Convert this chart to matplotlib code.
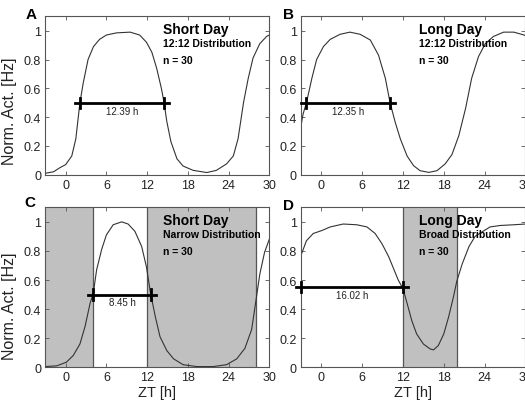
import matplotlib
matplotlib.use('Agg')
import matplotlib.pyplot as plt

plt.rcParams['font.family'] = ['Liberation Sans', 'DejaVu Sans']

# Curves (ZT hour, normalised activity)
a_x = [-3, -1.8, -0.8, 0, 0.9, 1.5, 2.1, 2.6, 3.3, 4.1, 5.0, 6.0, 7.5, 9.5, 10.9, 11.9, 12.7, 13.4, 14.1, 14.5,
       14.9, 15.5, 16.4, 17.3, 18.8, 20.8, 22.2, 23.7, 24.7, 25.4, 26.2, 26.9, 27.6, 28.6, 29.6, 30]
a_y = [0.01, 0.02, 0.05, 0.07, 0.13, 0.25, 0.5, 0.64, 0.8, 0.89, 0.94, 0.97, 0.985, 0.99, 0.97, 0.92, 0.85, 0.74, 0.6, 0.5,
       0.37, 0.23, 0.11, 0.06, 0.03, 0.015, 0.03, 0.075, 0.13, 0.25, 0.5, 0.67, 0.81, 0.91, 0.96, 0.97]

b_x = [-3, -2.7, -2.2, -1.4, -0.7, 0.3, 1.3, 2.75, 4.2, 5.7, 7.2, 8.4, 9.4, 10.1, 10.85, 11.6, 12.6, 13.55, 14.5,
       15.8, 17.0, 18.2, 19.2, 20.2, 21.2, 22.1, 23.1, 24.1, 25.3, 26.8, 28.3, 29.8, 30]
b_y = [0.34, 0.42, 0.5, 0.67, 0.8, 0.89, 0.94, 0.975, 0.99, 0.975, 0.935, 0.83, 0.67, 0.5, 0.365, 0.25, 0.13, 0.063, 0.028,
       0.016, 0.028, 0.075, 0.14, 0.27, 0.46, 0.67, 0.82, 0.91, 0.96, 0.99, 0.99, 0.97, 0.965]

c_x = [-3, -1.3, 0.1, 1.1, 2.1, 2.85, 3.6, 4.07, 4.56, 5.3, 6.0, 7.0, 8.25, 9.2, 10.2, 11.2, 11.9, 12.5, 13.2, 13.9,
       14.9, 15.9, 17.3, 19.3, 21.75, 23.7, 25.2, 26.4, 27.4, 28.1, 28.6, 29.3, 30]
c_y = [0.005, 0.01, 0.035, 0.08, 0.16, 0.28, 0.44, 0.51, 0.67, 0.81, 0.91, 0.98, 1.0, 0.985, 0.935, 0.83, 0.69, 0.51, 0.35, 0.21,
       0.115, 0.058, 0.018, 0.005, 0.005, 0.018, 0.058, 0.13, 0.26, 0.48, 0.64, 0.79, 0.88]

d_x = [-3, -2.2, -1.2, 0.05, 1.3, 3.2, 5.2, 6.7, 7.9, 8.9, 9.9, 10.6, 11.3, 12.0, 12.6, 13.3, 14.0, 15.0, 16.0, 16.5,
       17.2, 18.0, 18.7, 19.4, 19.9, 20.7, 21.7, 22.6, 23.6, 24.8, 26.3, 28.3, 30]
d_y = [0.77, 0.87, 0.92, 0.94, 0.965, 0.985, 0.98, 0.965, 0.92, 0.85, 0.76, 0.68, 0.6, 0.54, 0.44, 0.32, 0.23, 0.16, 0.126, 0.12,
       0.15, 0.23, 0.345, 0.48, 0.59, 0.71, 0.83, 0.9, 0.93, 0.965, 0.975, 0.98, 0.985]

# half-max bars: (left crossing, right crossing, level, label)
bars = {
    'A': (2.1, 14.49, 0.5, '12.39 h'),
    'B': (-2.25, 10.1, 0.5, '12.35 h'),
    'C': (4.07, 12.52, 0.5, '8.45 h'),
    'D': (-3.0, 12.0, 0.55, '16.02 h'),
}
titles = {
    'A': ('Short Day', '12:12 Distribution'),
    'B': ('Long Day', '12:12 Distribution'),
    'C': ('Short Day', 'Narrow Distribution'),
    'D': ('Long Day', 'Broad Distribution'),
}
# dark phases (shaded)
dark = {'C': [(-3, 4), (12, 28)], 'D': [(12, 20)]}
n_animals = 30

W, H = 525, 402
fig = plt.figure(figsize=(W / 100, H / 100), dpi=100)

def box(x0, y0, x1, y1):
    return [x0 / W, 1 - y1 / H, (x1 - x0) / W, (y1 - y0) / H]

axes = {
    'A': fig.add_axes(box(45.3, 17.3, 269.3, 175.7)),
    'B': fig.add_axes(box(301, 17.3, 525.4, 175.7)),
    'C': fig.add_axes(box(45.3, 208.3, 269.3, 368.3)),
    'D': fig.add_axes(box(301, 208.3, 525.4, 368.3)),
}
curves = {'A': (a_x, a_y), 'B': (b_x, b_y), 'C': (c_x, c_y), 'D': (d_x, d_y)}
letter_pos = {'A': (31, 15), 'B': (288, 15), 'C': (30, 203), 'D': (289, 206)}

for key, ax in axes.items():
    for x0, x1 in dark.get(key, []):
        ax.axvspan(x0, x1, color='#c0c0c0', lw=0, zorder=0)
        for xb in (x0, x1):
            if -3 < xb < 30:
                ax.axvline(xb, color='#555555', lw=0.9, zorder=1)
    xs, ys = curves[key]
    ax.plot(xs, ys, color='#333333', lw=0.8, zorder=2)

    l, r, lev, lab = bars[key]
    ax.plot([l - 0.75, r + 0.75], [lev, lev], color='black', lw=2, zorder=3, clip_on=False)
    for xt in (l, r):
        ax.plot([xt, xt], [lev - 0.035, lev + 0.035], color='black', lw=2, zorder=3, clip_on=False)
    ax.text((l + r) / 2, lev - 0.02, lab, fontsize=7, ha='center', va='top', color='#222222')

    t1, t2 = titles[key]
    ax.text(14.4, 1.01, t1, fontsize=10, fontweight='bold', va='center')
    ax.text(14.4, 0.915, t2, fontsize=7.5, fontweight='bold', va='center')
    ax.text(14.4, 0.80, 'n = %d' % n_animals, fontsize=7.5, fontweight='bold', va='center')

    ax.set_xlim(-3, 30)
    ax.set_ylim(0, 1.1)
    ax.set_xticks([0, 6, 12, 18, 24, 30])
    ax.set_yticks([0, 0.2, 0.4, 0.6, 0.8, 1])
    ax.set_yticklabels(['0', '0.2', '0.4', '0.6', '0.8', '1'])
    ax.tick_params(direction='in', top=True, right=True, length=3, width=0.6,
                   labelsize=9, pad=3, color='#555555', labelcolor='#222222')
    for s in ax.spines.values():
        s.set_color('#555555')
        s.set_linewidth(0.8)

    lx, ly = letter_pos[key]
    fig.text(lx / W, 1 - ly / H, key, fontsize=11, fontweight='bold', ha='center', va='center')

for key, yc in (('A', 0.41), ('C', 0.39)):
    axes[key].set_ylabel('Norm. Act. [Hz]', fontsize=11.5, color='#222222')
    axes[key].yaxis.set_label_coords(-0.128, yc)
for key in ('C', 'D'):
    axes[key].set_xlabel('ZT [h]', fontsize=10.5, color='#222222')
    axes[key].xaxis.set_label_coords(0.5, -0.155)
    axes[key].xaxis.label.set_va('center')

fig.savefig('out.png', dpi=100)
